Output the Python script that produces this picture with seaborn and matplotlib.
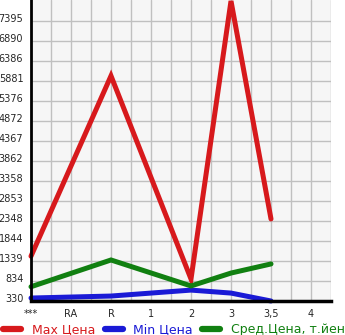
import numpy as np
import pandas as pd
import matplotlib
matplotlib.use("Agg")
import matplotlib.pyplot as plt
import matplotlib.transforms as mtransforms
import seaborn as sns

categories = ["***", "RA", "R", "1", "2", "3", "3,5", "4"]
max_price = [1460, np.nan, 6010, np.nan, 885, 7900, 2400, np.nan]
min_price = [405, np.nan, 455, np.nan, 605, 530, 330, np.nan]
avg_price = [690, np.nan, 1365, np.nan, 710, 1035, 1265, np.nan]
series_names = ["Max Цена", "Min Цена", "Сред.Цена, т.йен"]
series_colors = ["#d7191c", "#1a1ad6", "#118011"]
y_ticks = [330, 834, 1339, 1844, 2348, 2853, 3358, 3862, 4367, 4872,
           5376, 5881, 6386, 6890, 7395]

rows = []
for name, vals in zip(series_names, [max_price, min_price, avg_price]):
    for i, v in enumerate(vals):
        if not np.isnan(v):
            rows.append({"pos": i, "value": v, "series": name})
df = pd.DataFrame(rows)

sns.set_style("white")
plt.rcParams['font.family'] = ['DejaVu Sans']

fig = plt.figure(figsize=(3.45, 3.35), dpi=100)
ax = fig.add_axes([31 / 345, 1 - 301 / 335, 300 / 345, 301 / 335])
ax.set_facecolor("#f6f6f6")

sns.lineplot(data=df, x="pos", y="value", hue="series", hue_order=series_names,
             palette=series_colors, linewidth=3.6, sort=False, ax=ax,
             solid_capstyle="round", solid_joinstyle="miter", legend=True)
for ln in ax.get_lines():
    ln.set_clip_on(False)

ax.set_xlim(0, 7.5)
ax.set_ylim(330, 7924)
ax.set_xticks(range(len(categories)))
ax.set_xticklabels(categories)
ax.set_xticks(np.arange(0.5, 8, 1.0), minor=True)
ax.set_yticks(y_ticks)
ax.set_yticklabels([str(t) for t in y_ticks])
ax.set_xlabel("")
ax.set_ylabel("")

ax.grid(True, which="both", color="#c0c0c0", linewidth=1.0)
ax.set_axisbelow(True)
for s in ["top", "right"]:
    ax.spines[s].set_visible(False)
ax.spines["left"].set_color("black")
ax.spines["left"].set_linewidth(2)
ax.spines["bottom"].set_color("black")
ax.spines["bottom"].set_linewidth(2.5)

ax.tick_params(axis="both", which="both", direction="out", length=4, width=1,
               color="black", labelsize=7, pad=1.5)
off = mtransforms.ScaledTranslation(0, 3 / 100, fig.dpi_scale_trans)
for lab in ax.get_yticklabels():
    lab.set_transform(lab.get_transform() + off)

sns.move_legend(ax, "lower left", bbox_to_anchor=(-28 / 300, -35 / 301),
                ncol=3, frameon=False, title=None, fontsize=9,
                handlelength=1.45, handletextpad=0.85, columnspacing=0.75,
                borderaxespad=0, borderpad=0)
leg = ax.get_legend()
for txt, col in zip(leg.get_texts(), series_colors):
    txt.set_color(col)
for h in leg.legend_handles:
    h.set_linewidth(4.5)
    h.set_solid_capstyle("round")

fig.savefig("out.png", dpi=100)
